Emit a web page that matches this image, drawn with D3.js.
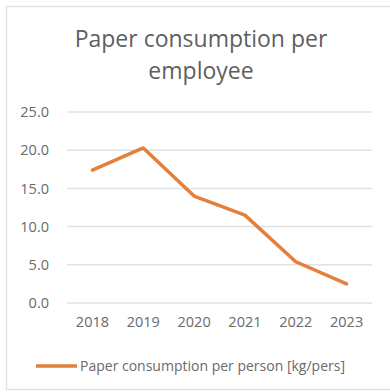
<!DOCTYPE html>
<html>
<head>
<meta charset="utf-8">
<script src="https://cdn.jsdelivr.net/npm/d3@7"></script>
<style>
  body { margin: 0; background: #fff; }
  text { font-family: "Open Sans", sans-serif; }
</style>
</head>
<body>
<script>
var years = ["2018", "2019", "2020", "2021", "2022", "2023"];
var paperPerPerson = [17.4, 20.3, 14.0, 11.5, 5.4, 2.5];
var yTicks = [0, 5, 10, 15, 20, 25];
var seriesName = "Paper consumption per person [kg/pers]";
var titleLines = ["Paper consumption per", "employee"];

var width = 390, height = 392;
var margin = { top: 112, right: 18, bottom: 89, left: 67 };

var svg = d3.select("body")
  .append("svg")
  .attr("width", width)
  .attr("height", height);

// chart frame
svg.append("rect")
  .attr("x", 6.5).attr("y", 6.5)
  .attr("width", width + 10).attr("height", 383)
  .attr("fill", "#fff")
  .attr("stroke", "#e3e3e3")
  .attr("stroke-width", 1.5);

var xScale = d3.scaleBand()
  .domain(years)
  .range([margin.left, width - margin.right]);

var yScale = d3.scaleLinear()
  .domain([0, 25])
  .range([height - margin.bottom, margin.top]);

// gridlines
svg.append("g")
  .selectAll("line")
  .data(yTicks)
  .enter().append("line")
  .attr("x1", margin.left)
  .attr("x2", width - margin.right)
  .attr("y1", function(d) { return yScale(d); })
  .attr("y2", function(d) { return yScale(d); })
  .attr("stroke", "#e2e2e2")
  .attr("stroke-width", 1.5);

var yAxis = svg.append("g")
  .attr("transform", "translate(" + (margin.left - 15) + ",0)")
  .call(d3.axisLeft(yScale).tickValues(yTicks).tickFormat(d3.format(".1f")).tickSize(0));
yAxis.select(".domain").remove();
yAxis.selectAll("text")
  .attr("fill", "#6a6a6a")
  .style("font-size", "14.5px");

var xAxis = svg.append("g")
  .attr("transform", "translate(0," + (height - margin.bottom) + ")")
  .call(d3.axisBottom(xScale).tickSize(0));
xAxis.select(".domain").remove();
xAxis.selectAll("text")
  .attr("dy", "1.45em")
  .attr("fill", "#6a6a6a")
  .style("font-size", "14.5px");

var line = d3.line()
  .x(function(d, i) { return xScale(years[i]) + xScale.bandwidth() / 2; })
  .y(function(d) { return yScale(d); });

svg.append("path")
  .datum(paperPerPerson)
  .attr("d", line)
  .attr("fill", "none")
  .attr("stroke", "#E2803C")
  .attr("stroke-width", 3.5)
  .attr("stroke-linejoin", "round")
  .attr("stroke-linecap", "round");

svg.append("g")
  .selectAll("text")
  .data(titleLines)
  .enter().append("text")
  .attr("x", 201)
  .attr("y", function(d, i) { return 47 + i * 32; })
  .attr("text-anchor", "middle")
  .attr("fill", "#5f5f5f")
  .style("font-size", "23px")
  .text(function(d) { return d; });

// legend
svg.append("line")
  .attr("x1", 36).attr("x2", 77)
  .attr("y1", 366).attr("y2", 366)
  .attr("stroke", "#E2803C")
  .attr("stroke-width", 3.5);

svg.append("text")
  .attr("x", 80)
  .attr("y", 371)
  .attr("fill", "#6a6a6a")
  .style("font-size", "14px")
  .text(seriesName);
</script>
</body>
</html>
